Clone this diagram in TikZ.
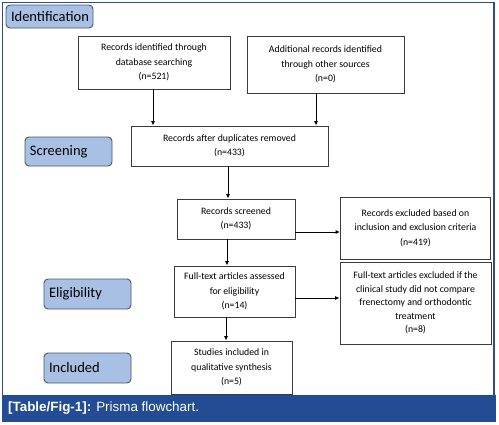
\documentclass[tikz,border=0pt]{standalone}
\usepackage{fontspec}
\setmainfont{Carlito}
\newfontfamily\capfont{Liberation Sans}
\usetikzlibrary{arrows.meta,calc}
\definecolor{bandblue}{HTML}{244C95}
\definecolor{framecol}{HTML}{2E4E7E}
\definecolor{phasefill}{HTML}{A8C0E4}
\definecolor{phasedraw}{HTML}{4A5670}
\definecolor{boxdraw}{HTML}{3A3A3A}
\tikzset{
  x=1pt, y=-1pt,
  flowbox/.style={draw=boxdraw, line width=0.9pt, fill=white, align=center,
    font=\fontsize{9.8}{14.5}\selectfont, inner sep=2pt},
  phase/.style={draw=phasedraw, line width=0.9pt, fill=phasefill, rounded corners=4pt,
    minimum width=87pt, text width=77pt, inner xsep=5pt, align=left,
    font=\fontsize{14.5}{16}\selectfont},
  arr/.style={line width=1pt, draw=black, -{Latex[length=4.5pt,width=4pt]}}
}
\begin{document}
\begin{tikzpicture}
\useasboundingbox (0,0) rectangle (499,424);
\fill[white] (0,0) rectangle (499,424);
% frame and caption band
\draw[framecol, line width=1.4pt] (2.5,2.5) rectangle (494,396);
\fill[bandblue] (1.8,395) rectangle (496,421.5);
\node[anchor=west, text=white, inner sep=0pt, font=\capfont\fontsize{13.4}{15}\selectfont] (cap) at (8,408.5)
  {\textbf{[Table/Fig-1]:} Prisma flowchart.};
% phase labels
\node[phase, minimum height=23pt] (ph1) at (49.5,16.5) {Identification};
\node[phase, minimum height=29pt] (ph2) at (68.5,151.5) {Screening};
\node[phase, minimum height=30pt] (ph3) at (87.5,294) {Eligibility};
\node[phase, minimum height=30pt] (ph4) at (87.5,368) {Included};
% boxes
\node[flowbox, minimum width=152pt, minimum height=53pt] (b1) at (154,62.5)
  {Records identified through\\database searching\\(n=521)};
\node[flowbox, minimum width=157pt, minimum height=57pt] (b2) at (325.5,64.5)
  {Additional records identified\\through other sources\\(n=0)};
\node[flowbox, minimum width=197pt, minimum height=40pt] (b3) at (229.5,146)
  {Records after duplicates removed\\(n=433)};
\node[flowbox, minimum width=118pt, minimum height=40pt] (b4) at (236,219)
  {Records screened\\(n=433)};
\node[flowbox, minimum width=150pt, minimum height=62pt] (r1) at (415.5,228)
  {Records excluded based on\\inclusion and exclusion criteria\\(n=419)};
\node[flowbox, minimum width=121pt, minimum height=51pt] (b5) at (234.5,291.5)
  {Full-text articles assessed\\for eligibility\\(n=14)};
\node[flowbox, minimum width=151pt, minimum height=82pt, font=\fontsize{9.8}{13.5}\selectfont] (r2) at (415.5,303)
  {Full-text articles excluded if the\\clinical study did not compare\\frenectomy and orthodontic\\treatment\\(n=8)};
\node[flowbox, minimum width=121pt, minimum height=53pt] (b6) at (231.5,367.5)
  {Studies included in\\qualitative synthesis\\(n=5)};
% connectors
\draw[arr] ([xshift=-1pt]b1.south) coordinate (p1) -- (p1 |- b3.north);
\draw[arr] ([xshift=-9.5pt]b2.south) coordinate (p2) -- (p2 |- b3.north);
\draw[arr] ([xshift=-1.5pt]b3.south) coordinate (p3) -- (p3 |- b4.north);
\draw[arr] ([xshift=-9pt]b4.south) coordinate (p4) -- (p4 |- b5.north);
\draw[arr] ([xshift=-8.5pt]b5.south) coordinate (p5) -- (p5 |- b6.north);
\draw[arr] ([yshift=-13pt]b4.east) coordinate (q1) -- (q1 -| r1.west);
\draw[arr] ([yshift=-6.5pt]b5.east) coordinate (q2) -- (q2 -| r2.west);
\end{tikzpicture}
\end{document}
